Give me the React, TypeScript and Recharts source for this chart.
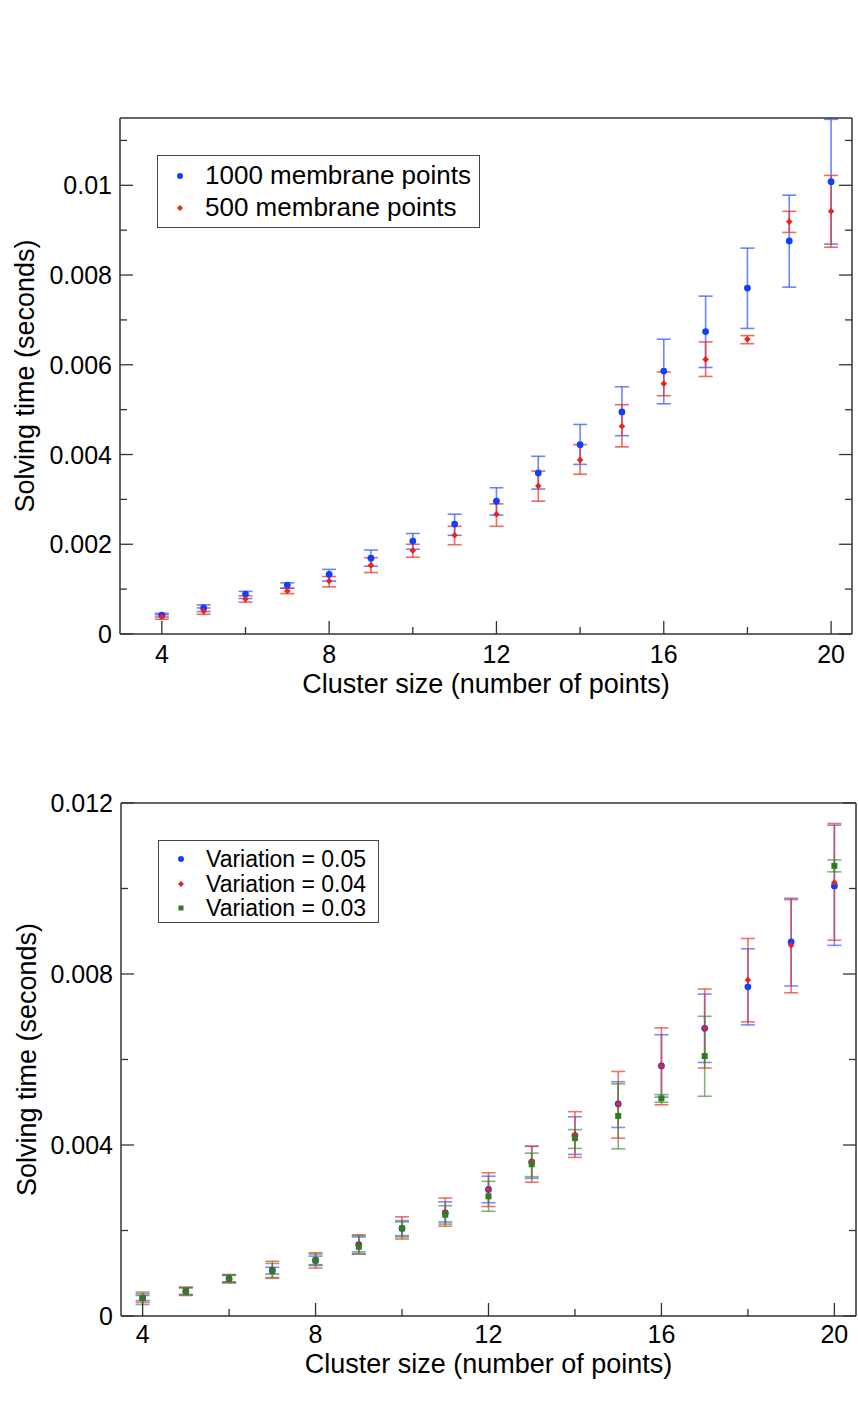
import React from 'react';
import { ScatterChart, Scatter, XAxis, YAxis, ErrorBar } from 'recharts';

const FONT = '"Liberation Sans", Arial, Helvetica, sans-serif';

// ---------- data ----------
const clusterSizes = [4, 5, 6, 7, 8, 9, 10, 11, 12, 13, 14, 15, 16, 17, 18, 19, 20];

// Top chart: 1000 vs 500 membrane points
const t1000 = [0.00042, 0.00058, 0.00089, 0.00109, 0.00133, 0.00169, 0.00207, 0.00245, 0.00296, 0.00359, 0.00422, 0.00495, 0.00586, 0.00674, 0.00771, 0.00876, 0.01008];
const t1000Low = [0.00038, 0.0005, 0.00079, 0.00102, 0.00118, 0.00151, 0.00189, 0.0022, 0.00265, 0.00323, 0.00378, 0.00442, 0.00513, 0.00594, 0.00681, 0.00773, 0.00869];
const t1000High = [0.00046, 0.00065, 0.00095, 0.00114, 0.00144, 0.00187, 0.00224, 0.00267, 0.00326, 0.00396, 0.00467, 0.00551, 0.00657, 0.00753, 0.0086, 0.00978, 0.01147];

const t500 = [0.00038, 0.00051, 0.00078, 0.00096, 0.00118, 0.00153, 0.00186, 0.0022, 0.00267, 0.0033, 0.00388, 0.00463, 0.00558, 0.00612, 0.00657, 0.00919, 0.00942];
const t500Low = [0.00033, 0.00044, 0.00071, 0.0009, 0.00105, 0.00137, 0.00171, 0.00199, 0.0024, 0.00296, 0.00356, 0.00417, 0.00531, 0.00574, 0.00647, 0.00895, 0.00862];
const t500High = [0.00043, 0.00058, 0.00085, 0.00102, 0.00128, 0.0017, 0.002, 0.0024, 0.0029, 0.00363, 0.00422, 0.00511, 0.00584, 0.00651, 0.00665, 0.00942, 0.01022];

// Bottom chart: variation 0.05 / 0.04 / 0.03
const v05 = [0.00042, 0.00058, 0.00087, 0.00107, 0.0013, 0.00167, 0.00205, 0.00241, 0.00296, 0.0036, 0.00422, 0.00496, 0.00585, 0.00673, 0.0077, 0.00875, 0.01006];
const v05Low = [0.00036, 0.0005, 0.0008, 0.00098, 0.0012, 0.0015, 0.00188, 0.0022, 0.00265, 0.00322, 0.00378, 0.00441, 0.00512, 0.00593, 0.00681, 0.00772, 0.00867];
const v05High = [0.00048, 0.00066, 0.00095, 0.00114, 0.0014, 0.00185, 0.00223, 0.00267, 0.00327, 0.00397, 0.00466, 0.00548, 0.00658, 0.00753, 0.00859, 0.00977, 0.01148];

const v04 = [0.0004, 0.00058, 0.00087, 0.00107, 0.0013, 0.00167, 0.00205, 0.00242, 0.00296, 0.00362, 0.00424, 0.00496, 0.00585, 0.00673, 0.00786, 0.00867, 0.01014];
const v04Low = [0.00032, 0.00048, 0.00077, 0.00088, 0.00112, 0.00145, 0.0018, 0.0021, 0.00256, 0.00313, 0.00371, 0.00416, 0.00494, 0.0058, 0.00688, 0.00756, 0.00879];
const v04High = [0.00052, 0.00068, 0.00097, 0.00128, 0.00148, 0.0019, 0.00232, 0.00276, 0.00335, 0.00397, 0.00478, 0.00572, 0.00674, 0.00765, 0.00883, 0.00974, 0.01152];

const v03 = [0.00042, 0.00058, 0.00087, 0.00105, 0.0013, 0.00162, 0.00205, 0.00237, 0.0028, 0.00355, 0.00416, 0.00468, 0.00509, 0.00608, null, null, 0.01053];
const v03Low = [0.00027, 0.0005, 0.00079, 0.0009, 0.00118, 0.00145, 0.00185, 0.00215, 0.00245, 0.00326, 0.00392, 0.00391, 0.005, 0.00514, null, null, 0.01039];
const v03High = [0.00056, 0.00066, 0.00096, 0.00123, 0.00145, 0.00188, 0.0022, 0.00258, 0.00315, 0.00381, 0.00436, 0.00543, 0.00518, 0.00701, null, null, 0.01067];

// ticks
const xTicks = [4, 6, 8, 10, 12, 14, 16, 18, 20];
const xMajor = [4, 8, 12, 16, 20];
const topYTicks = [0, 0.001, 0.002, 0.003, 0.004, 0.005, 0.006, 0.007, 0.008, 0.009, 0.01, 0.011];
const topYMajor = [0, 0.002, 0.004, 0.006, 0.008, 0.01];
const botYTicks = [0, 0.002, 0.004, 0.006, 0.008, 0.01, 0.012];
const botYMajor = [0, 0.004, 0.008, 0.012];

const legendTop = ['1000 membrane points', '500 membrane points'];
const legendBottom = ['Variation = 0.05', 'Variation = 0.04', 'Variation = 0.03'];
const xTitle = 'Cluster size (number of points)';
const yTitle = 'Solving time (seconds)';

// ---------- helpers ----------
type Pt = { x: number; y: number; err: [number, number] };
function buildSeries(values: (number | null)[], low: (number | null)[], high: (number | null)[]): Pt[] {
  const out: Pt[] = [];
  values.forEach((v, i) => {
    const lo = low[i];
    const hi = high[i];
    if (v == null || lo == null || hi == null) return;
    out.push({ x: clusterSizes[i], y: v, err: [v - lo, hi - v] });
  });
  return out;
}

const s1000 = buildSeries(t1000, t1000Low, t1000High);
const s500 = buildSeries(t500, t500Low, t500High);
const s05 = buildSeries(v05, v05Low, v05High);
const s04 = buildSeries(v04, v04Low, v04High);
const s03 = buildSeries(v03, v03Low, v03High);

const BLUE = '#1040ff';
const RED = '#e8251c';
const GREEN = '#2e7d1f';
const BLUE_ERR = '#3a5cff';
const RED_ERR = '#ea3a2c';
const GREEN_ERR = '#3f8a2c';
const AXIS = '#333';
const MAJOR = 13;
const MINOR = 7;
const TICK_FONT = 25;
const TITLE_FONT = 27;

const isIn = (v: number, arr: number[]) => arr.some((m) => Math.abs(m - v) < 1e-9);

function bottomTick(majors: number[], gap: number) {
  return (props: any) => {
    const { x, y, payload } = props;
    const major = isIn(payload.value, majors);
    return (
      <g>
        <line x1={x} x2={x} y1={y} y2={y - (major ? MAJOR : MINOR)} stroke={AXIS} strokeWidth={1.3} />
        {major && (
          <text x={x} y={y + gap} dy="0.36em" textAnchor="middle" fontSize={TICK_FONT} fontFamily={FONT} fill="#000">
            {String(payload.value)}
          </text>
        )}
      </g>
    );
  };
}
function topTick(majors: number[]) {
  return (props: any) => {
    const { x, y, payload } = props;
    const major = isIn(payload.value, majors);
    return <line x1={x} x2={x} y1={y} y2={y + (major ? MAJOR : MINOR)} stroke={AXIS} strokeWidth={1.3} />;
  };
}
function leftTick(majors: number[]) {
  return (props: any) => {
    const { x, y, payload } = props;
    const major = isIn(payload.value, majors);
    return (
      <g>
        <line x1={x} x2={x + (major ? MAJOR : MINOR)} y1={y} y2={y} stroke={AXIS} strokeWidth={1.3} />
        {major && (
          <text x={x - 8} y={y} dy="0.36em" textAnchor="end" fontSize={TICK_FONT} fontFamily={FONT} fill="#000">
            {String(payload.value)}
          </text>
        )}
      </g>
    );
  };
}
function rightTick(majors: number[]) {
  return (props: any) => {
    const { x, y, payload } = props;
    const major = isIn(payload.value, majors);
    return <line x1={x} x2={x - (major ? MAJOR : MINOR)} y1={y} y2={y} stroke={AXIS} strokeWidth={1.3} />;
  };
}

const circleShape = (color: string, r: number) => (p: any) => <circle cx={p.cx} cy={p.cy} r={r} fill={color} />;
const diamondShape = (color: string, s: number) => (p: any) => (
  <polygon points={`${p.cx},${p.cy - s} ${p.cx + s},${p.cy} ${p.cx},${p.cy + s} ${p.cx - s},${p.cy}`} fill={color} />
);
const squareShape = (color: string, s: number) => (p: any) => (
  <rect x={p.cx - s / 2} y={p.cy - s / 2} width={s} height={s} fill={color} />
);

function LegendSymbol({ kind, color }: { kind: string; color: string }) {
  return (
    <svg width={12} height={12} style={{ position: 'absolute', left: -6, top: -6 }}>
      {kind === 'circle' && <circle cx={6} cy={6} r={3} fill={color} />}
      {kind === 'diamond' && <polygon points="6,3 9,6 6,9 3,6" fill={color} />}
      {kind === 'square' && <rect x={3.5} y={3.5} width={5} height={5} fill={color} />}
    </svg>
  );
}

function LegendBox(props: {
  left: number; top: number; width: number; height: number; fontSize: number;
  rows: { label: string; color: string; kind: string; cy: number }[];
}) {
  const { left, top, width, height, fontSize, rows } = props;
  return (
    <div
      style={{
        position: 'absolute', left, top, width, height, boxSizing: 'border-box',
        border: '1.3px solid #444', background: '#fff', fontFamily: FONT, fontSize,
      }}
    >
      {rows.map((r) => (
        <div key={r.label}>
          <div style={{ position: 'absolute', left: 22, top: r.cy }}>
            <LegendSymbol kind={r.kind} color={r.color} />
          </div>
          <div style={{ position: 'absolute', left: 47, top: r.cy - fontSize * 0.58, whiteSpace: 'nowrap', lineHeight: `${fontSize * 1.15}px`, color: '#000' }}>
            {r.label}
          </div>
        </div>
      ))}
    </div>
  );
}

function TopChart() {
  return (
    <ScatterChart width={858} height={700} margin={{ top: 100, right: 0, bottom: 7, left: 0 }}>
      <XAxis
        xAxisId={0} type="number" dataKey="x" domain={[3, 20.5]} ticks={xTicks} interval={0}
        tickSize={0} tickMargin={0} tick={bottomTick(xMajor, 20)} tickLine={false} height={59}
        axisLine={{ stroke: AXIS, strokeWidth: 1.5 }} allowDataOverflow
        label={{ value: xTitle, position: 'insideBottom', offset: 0, fontSize: TITLE_FONT, fontFamily: FONT, fill: '#000' }}
      />
      <XAxis
        xAxisId="top" orientation="top" type="number" domain={[3, 20.5]} ticks={xTicks} interval={0}
        tickSize={0} tickMargin={0} tick={topTick(xMajor)} tickLine={false} height={18}
        axisLine={{ stroke: AXIS, strokeWidth: 1.5 }} allowDataOverflow
      />
      <YAxis
        yAxisId={0} type="number" dataKey="y" domain={[0, 0.0115]} ticks={topYTicks} interval={0}
        tickSize={0} tickMargin={0} tick={leftTick(topYMajor)} tickLine={false} width={120}
        axisLine={{ stroke: AXIS, strokeWidth: 1.5 }} allowDataOverflow
        label={{ value: yTitle, angle: -90, position: 'insideLeft', offset: 24, fontSize: TITLE_FONT, fontFamily: FONT, fill: '#000', style: { textAnchor: 'middle' } }}
      />
      <YAxis
        yAxisId="right" orientation="right" type="number" domain={[0, 0.0115]} ticks={topYTicks} interval={0}
        tickSize={0} tickMargin={0} tick={rightTick(topYMajor)} tickLine={false} width={6}
        axisLine={{ stroke: AXIS, strokeWidth: 1.5 }} allowDataOverflow
      />
      <Scatter data={s1000} name={legendTop[0]} isAnimationActive={false} shape={circleShape(BLUE, 3.4)}>
        <ErrorBar dataKey="err" direction="y" width={7} stroke={BLUE_ERR} strokeWidth={1.6} strokeOpacity={0.75} isAnimationActive={false} />
      </Scatter>
      <Scatter data={s500} name={legendTop[1]} isAnimationActive={false} shape={diamondShape(RED, 3.3)}>
        <ErrorBar dataKey="err" direction="y" width={7} stroke={RED_ERR} strokeWidth={1.6} strokeOpacity={0.75} isAnimationActive={false} />
      </Scatter>
    </ScatterChart>
  );
}

function BottomChart() {
  return (
    <ScatterChart width={858} height={713} margin={{ top: 75, right: 0, bottom: 50, left: 0 }}>
      <XAxis
        xAxisId={0} type="number" dataKey="x" domain={[3.5, 20.5]} ticks={xTicks} interval={0}
        tickSize={0} tickMargin={0} tick={bottomTick(xMajor, 18)} tickLine={false} height={57}
        axisLine={{ stroke: AXIS, strokeWidth: 1.5 }} allowDataOverflow
        label={{ value: xTitle, position: 'insideBottom', offset: 0, fontSize: TITLE_FONT, fontFamily: FONT, fill: '#000' }}
      />
      <XAxis
        xAxisId="top" orientation="top" type="number" domain={[3.5, 20.5]} ticks={xTicks} interval={0}
        tickSize={0} tickMargin={0} tick={topTick(xMajor)} tickLine={false} height={18}
        axisLine={{ stroke: AXIS, strokeWidth: 1.5 }} allowDataOverflow
      />
      <YAxis
        yAxisId={0} type="number" dataKey="y" domain={[0, 0.012]} ticks={botYTicks} interval={0}
        tickSize={0} tickMargin={0} tick={leftTick(botYMajor)} tickLine={false} width={121}
        axisLine={{ stroke: AXIS, strokeWidth: 1.5 }} allowDataOverflow
        label={{ value: yTitle, angle: -90, position: 'insideLeft', offset: 26, fontSize: TITLE_FONT, fontFamily: FONT, fill: '#000', style: { textAnchor: 'middle' } }}
      />
      <YAxis
        yAxisId="right" orientation="right" type="number" domain={[0, 0.012]} ticks={botYTicks} interval={0}
        tickSize={0} tickMargin={0} tick={rightTick(botYMajor)} tickLine={false} width={2}
        axisLine={{ stroke: AXIS, strokeWidth: 1.5 }} allowDataOverflow
      />
      <Scatter data={s05} name={legendBottom[0]} isAnimationActive={false} shape={circleShape(BLUE, 3.4)}>
        <ErrorBar dataKey="err" direction="y" width={7} stroke={BLUE_ERR} strokeWidth={1.6} strokeOpacity={0.7} isAnimationActive={false} />
      </Scatter>
      <Scatter data={s04} name={legendBottom[1]} isAnimationActive={false} shape={diamondShape(RED, 3.3)}>
        <ErrorBar dataKey="err" direction="y" width={7} stroke={RED_ERR} strokeWidth={1.6} strokeOpacity={0.7} isAnimationActive={false} />
      </Scatter>
      <Scatter data={s03} name={legendBottom[2]} isAnimationActive={false} shape={squareShape(GREEN, 6)}>
        <ErrorBar dataKey="err" direction="y" width={7} stroke={GREEN_ERR} strokeWidth={1.6} strokeOpacity={0.65} isAnimationActive={false} />
      </Scatter>
    </ScatterChart>
  );
}

export default function App() {
  return (
    <div style={{ position: 'absolute', left: 0, top: 0, width: 858, height: 1423, background: '#fff', fontFamily: FONT }}>
      <div style={{ position: 'absolute', left: 0, top: 0 }}>
        <TopChart />
      </div>
      <div style={{ position: 'absolute', left: 0, top: 710 }}>
        <BottomChart />
      </div>
      <LegendBox
        left={157} top={155} width={323} height={73} fontSize={26}
        rows={[
          { label: legendTop[0], color: BLUE, kind: 'circle', cy: 20 },
          { label: legendTop[1], color: RED, kind: 'diamond', cy: 52 },
        ]}
      />
      <LegendBox
        left={158} top={840} width={221} height={83} fontSize={23}
        rows={[
          { label: legendBottom[0], color: BLUE, kind: 'circle', cy: 18 },
          { label: legendBottom[1], color: RED, kind: 'diamond', cy: 43 },
          { label: legendBottom[2], color: GREEN, kind: 'square', cy: 67 },
        ]}
      />
    </div>
  );
}
